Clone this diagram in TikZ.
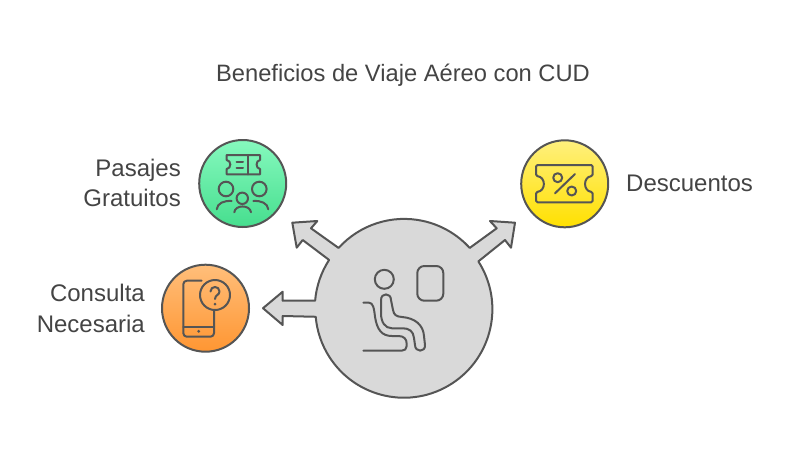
\documentclass[tikz,border=0pt]{standalone}
\usepackage{fontspec}
\setmainfont{Liberation Sans}
\usetikzlibrary{calc}
\definecolor{ink}{HTML}{555555}
\definecolor{txt}{HTML}{444444}
\definecolor{blobfill}{HTML}{D9D9D9}
\tikzset{
  x=1pt,y=-1pt,
  badge/.style={circle,draw=ink,line width=2pt,minimum size=87pt,inner sep=0pt,outer sep=0pt},
  blob/.style={draw=ink,fill=blobfill,line width=2pt,line join=round},
  icon/.style={draw=ink,line width=2pt,line cap=round,line join=round},
  label/.style={text=txt,inner sep=0pt,font=\fontsize{24}{30.5}\selectfont},
}
\begin{document}
\begin{tikzpicture}
\useasboundingbox (0,0) rectangle (800,456);
\node[circle,minimum size=177pt,inner sep=0pt,outer sep=0pt] (main) at (403.3,308.3) {};
\node[badge,top color={rgb,255:red,134;green,249;blue,190},bottom color={rgb,255:red,70;green,222;blue,142}] (pasajes) at (242.7,183.5) {};
\node[badge,top color={rgb,255:red,255;green,190;blue,122},bottom color={rgb,255:red,255;green,150;blue,50}] (consulta) at (205.5,308.2) {};
\node[badge,top color={rgb,255:red,255;green,240;blue,125},bottom color={rgb,255:red,255;green,224;blue,0}] (descuentos) at (564.7,183.8) {};
\draw[blob] (main.175.1) arc[start angle=175.1,end angle=147,radius=88.5pt]
  -- (302.7,240) -- (296.7,247.7) -- (292.3,222.7) -- (317.3,221) -- (311,228.3)
  -- (main.137.8) arc[start angle=137.8,end angle=42.2,radius=88.5pt]
  -- (496.7,228.3) -- (490,221) -- (515,222.7) -- (511,247.7) -- (505,240)
  -- (main.32.7) arc[start angle=32.7,end angle=-175.1,radius=88.5pt]
  -- (282.7,316) -- (282.7,325) -- (263,308.2) -- (282.7,291.7) -- (282.7,300.7) -- cycle;
% main icon
\draw[icon] (384.3,279.3) circle[radius=9.5pt];
\draw[icon,rounded corners=7pt] (417.3,266) rectangle (443.3,300.7);
\draw[icon] (363.3,302.7) -- (369,302.7) .. controls (373,302.7) and (374,308) .. (375,316.7)
  .. controls (377,330) and (382,336) .. (392,336) -- (398.3,336)
  .. controls (404,336) and (406.7,339) .. (406.7,344) -- (406.7,346)
  .. controls (406.7,349) and (404.5,350.7) .. (401.7,350.7) -- (363.3,350.7);
\draw[icon] (381,300) .. controls (381,292.5) and (391,292.5) .. (391,300)
  -- (393,310) .. controls (394,315) and (396,316.5) .. (402,317)
  .. controls (415,318) and (423.3,325) .. (424,336) -- (425,345)
  .. controls (425.5,352.5) and (415,352.5) .. (415,345)
  -- (414,338) .. controls (413.3,331) and (409,328.3) .. (403,328.3) -- (392,328.3)
  .. controls (385,328.3) and (381,322) .. (381,313.3) -- cycle;
% green icon
\draw[icon] (226.7,155) -- (260,155) -- (260,160)
  .. controls (255.5,160.5) and (255.5,168.5) .. (260,169) -- (260,174.3) -- (226.7,174.3) -- (226.7,169)
  .. controls (231.5,168.5) and (231.5,160.5) .. (226.7,160) -- cycle;
\draw[icon] (248.3,155) -- (248.3,174.3);
\draw[icon] (236.5,161.7) -- (243,161.7) (236.5,168.3) -- (243,168.3);
\draw[icon] (226,189) circle[radius=7.3pt];
\draw[icon] (259.3,189) circle[radius=7.3pt];
\draw[icon] (242.3,198.3) circle[radius=5.7pt];
\draw[icon] (234.3,212.3) .. controls (235,204.5) and (250,204.5) .. (251,212.3);
\draw[icon] (216.7,209.3) .. controls (217.5,203) and (224,200.5) .. (231.7,201);
\draw[icon] (268.3,209.3) .. controls (267.5,203) and (261,200.5) .. (253.3,201);
% orange icon
\draw[icon,rounded corners=3.5pt] (201.7,280.7) -- (183.3,280.7) -- (183.3,336.7) -- (214,336.7) -- (214,311);
\draw[icon] (183.3,326.7) -- (214,326.7);
\fill[ink] (198.7,331.3) circle[radius=1.6pt];
\draw[icon] (215,295) circle[radius=15pt];
\draw[icon] (210.5,291.5) .. controls (210.5,285.5) and (219.5,285.5) .. (219.5,291.5)
  .. controls (219.5,295) and (215,295) .. (215,299);
\fill[ink] (215,304.2) circle[radius=1.5pt];
% yellow icon
\draw[icon,rounded corners=1.5pt] (536,165) -- (592.7,165) -- (592.7,176)
  .. controls (583,177) and (583,191) .. (592.7,192) -- (592.7,202.3) -- (536,202.3) -- (536,192)
  .. controls (546,191) and (546,177) .. (536,176) -- cycle;
\draw[icon] (575,174) -- (555,193.3);
\draw[icon] (557.7,177.7) circle[radius=4.5pt];
\draw[icon] (571.7,191) circle[radius=4.5pt];
% text
\node[label,font=\fontsize{23.7}{26}\selectfont] (title) at (403,75.5) {Beneficios de Viaje Aéreo con CUD};
\node[label,align=right,anchor=east] (tpasajes) at (181,183) {Pasajes\\Gratuitos};
\node[label,align=right,anchor=east] (tconsulta) at (145,308.5) {Consulta\\Necesaria};
\node[label,anchor=west] (tdesc) at (626,183.5) {Descuentos};
\end{tikzpicture}
\end{document}
